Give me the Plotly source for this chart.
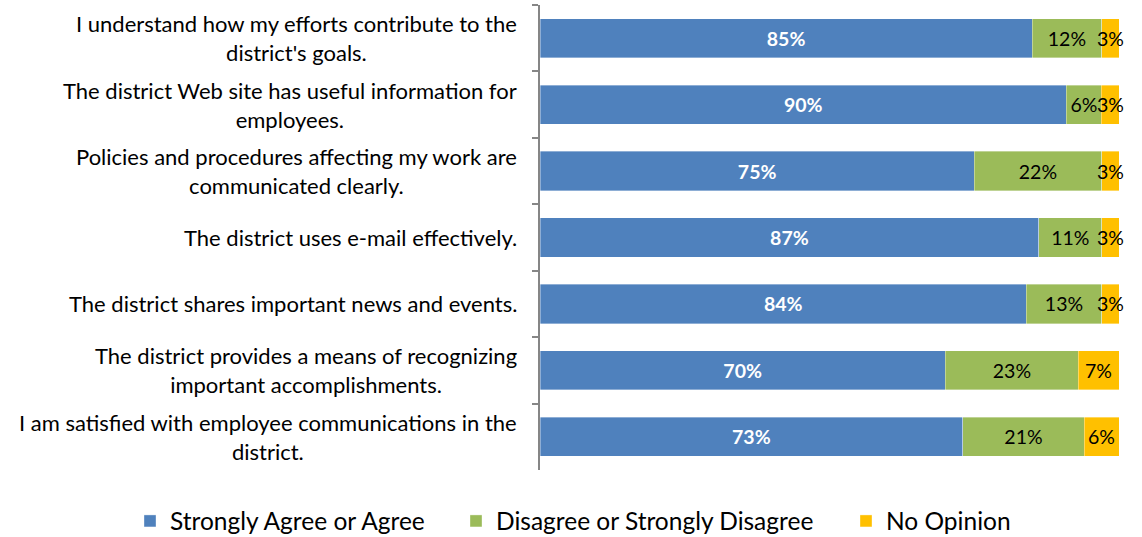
import plotly.graph_objects as go

statements = [
    "I understand how my efforts contribute to the<br>district's goals.",
    "The district Web site has useful information for<br>employees.",
    "Policies and procedures affecting my work are<br>communicated clearly.",
    "The district uses e-mail effectively.",
    "The district shares important news and events.",
    "The district provides a means of recognizing<br>important accomplishments.",
    "I am satisfied with employee communications in the<br>district.",
]
agree = [85, 90, 75, 87, 84, 70, 73]
disagree = [12, 6, 22, 11, 13, 23, 21]
no_opinion = [3, 3, 3, 3, 3, 7, 6]

FONT = "Lato"
W, H = 1142, 537
LABEL_SIZE = 19.5

series = [
    ("Strongly Agree or Agree", agree, "#4F81BD",
     dict(color="white", size=LABEL_SIZE, family=FONT, weight="bold"), "legend", 130, True),
    ("Disagree or Strongly Disagree", disagree, "#9BBB59",
     dict(color="black", size=LABEL_SIZE, family=FONT), "legend2", 456, True),
    ("No Opinion", no_opinion, "#FFC000",
     dict(color="black", size=LABEL_SIZE, family=FONT), "legend3", 846, False),
]

fig = go.Figure()
legend_layouts = {}
for name, vals, color, tfont, leg, leg_x, inside_text in series:
    fig.add_trace(go.Bar(
        name=name,
        y=statements,
        x=vals,
        orientation="h",
        marker=dict(color=color, line=dict(color="rgba(255,255,255,0.6)", width=0.6)),
        text=[f"{v}%" for v in vals],
        texttemplate="%{text}",
        textposition="inside" if inside_text else "none",
        insidetextanchor="middle",
        textangle=0,
        constraintext="none",
        cliponaxis=False,
        insidetextfont=tfont,
        hoverinfo="skip",
        legend=leg,
    ))
    legend_layouts[leg] = dict(
        orientation="h",
        xref="container", yref="container",
        x=leg_x / W, xanchor="left",
        y=1 - 521 / H, yanchor="middle",
        font=dict(size=24.5, family=FONT, color="black"),
        bgcolor="rgba(0,0,0,0)",
    )

# "No Opinion" segments are narrow: their labels sit centred on the segment
# at full size and are allowed to spill past its edges.
for s, a, d, n in zip(statements, agree, disagree, no_opinion):
    total = a + d + n
    centre = (a + d + n / 2) / total * 100
    fig.add_annotation(
        x=centre, xref="x", y=s, yref="y",
        text=f"{n}%", showarrow=False,
        xanchor="center", yanchor="middle",
        font=dict(size=LABEL_SIZE, family=FONT, color="black"),
    )

# Category labels, centred line by line and right-aligned against the axis
for s in statements:
    fig.add_annotation(
        x=0, xref="paper", xanchor="right", xshift=-21,
        y=s, yref="y", yanchor="middle",
        text=s, align="center", showarrow=False,
        font=dict(size=22, family=FONT, color="black"),
    )

fig.update_layout(
    barmode="stack",
    barnorm="percent",
    bargap=0.41,
    width=W,
    height=H,
    margin=dict(l=540, r=23, t=5, b=67),
    paper_bgcolor="white",
    plot_bgcolor="white",
    font=dict(family=FONT, size=20, color="black"),
    showlegend=True,
    xaxis=dict(range=[0, 100], visible=False, fixedrange=True),
    yaxis=dict(
        autorange="reversed",
        showline=True, linecolor="#868686", linewidth=1.5,
        ticks="outside", ticklen=6, tickcolor="#868686", tickwidth=1.5,
        tickson="boundaries",
        showticklabels=False,
        showgrid=False,
    ),
    **legend_layouts,
)

fig.write_html("out.html")
